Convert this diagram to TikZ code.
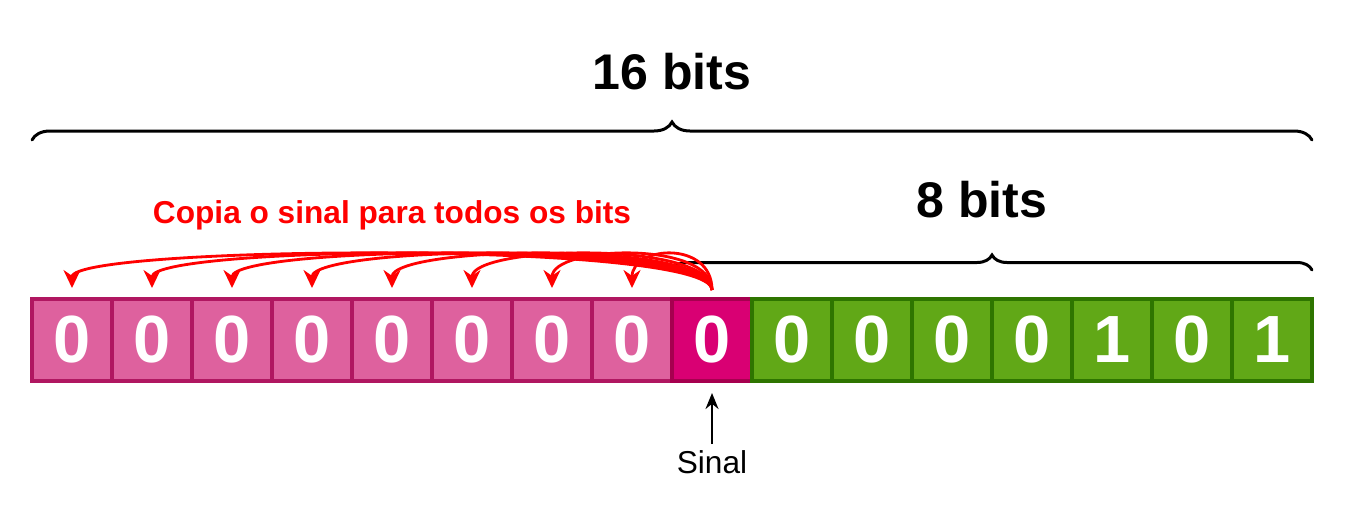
\documentclass[tikz,border=0pt]{standalone}
\usepackage{fontspec}
\setmainfont{Liberation Sans}
\usetikzlibrary{arrows.meta,decorations.pathreplacing}
\usetikzlibrary{positioning}

\begin{document}
\begin{tikzpicture}[
    bit/.style={draw,line width=2pt,minimum width=1.6cm,minimum height=1.64cm,outer sep=0pt,inner sep=0pt,text=white,font=\bfseries\fontsize{38}{40}\selectfont},
    extbit/.style={bit,fill=extfill,draw=extline},
    signbit/.style={bit,fill=signfill,draw=signline},
    lowbit/.style={bit,fill=lowfill,draw=lowline},
    bracebar/.style={decorate,line width=1.7pt,line cap=round},
    copyarrow/.style={-{Stealth[length=0.36cm,width=0.34cm]},red,line width=1.6pt}
  ]
		    \definecolor{extfill}{rgb}{0.87,0.38,0.62}
		    \definecolor{extline}{rgb}{0.69,0.09,0.38}
		    \definecolor{signfill}{rgb}{0.85,0.00,0.45}
		    \definecolor{signline}{rgb}{0.65,0.00,0.31}
		    \definecolor{lowfill}{rgb}{0.38,0.66,0.09}
		    \definecolor{lowline}{rgb}{0.18,0.46,0.00}
		    \useasboundingbox (0,0) rectangle (27.02,-10.44);

		    % upper byte: copies of the sign
		    \node[extbit] (b0) at (1.44,-6.8) {0};
		    \node[extbit, right = 0cm of b0] (b1) {0};
		    \node[extbit, right = 0cm of b1] (b2) {0};
		    \node[extbit, right = 0cm of b2] (b3) {0};
		    \node[extbit, right = 0cm of b3] (b4) {0};
		    \node[extbit, right = 0cm of b4] (b5) {0};
		    \node[extbit, right = 0cm of b5] (b6) {0};
		    \node[extbit, right = 0cm of b6] (b7) {0};
		    % lower byte
		    \node[signbit, right = 0cm of b7] (b8) {0};
		    \node[lowbit, right = 0cm of b8] (b9) {0};
		    \node[lowbit, right = 0cm of b9] (b10) {0};
		    \node[lowbit, right = 0cm of b10] (b11) {0};
		    \node[lowbit, right = 0cm of b11] (b12) {0};
		    \node[lowbit, right = 0cm of b12] (b13) {1};
		    \node[lowbit, right = 0cm of b13] (b14) {0};
		    \node[lowbit, right = 0cm of b14] (b15) {1};

		    % braces and their labels
		    \draw[bracebar,decoration={brace,amplitude=0.36cm}] ([yshift=3.18cm]b0.north west) -- ([yshift=3.18cm]b15.north east);
		    \draw[bracebar,decoration={brace,amplitude=0.3cm}] ([yshift=0.58cm]b8.north west) -- ([yshift=0.58cm]b15.north east);
		    \node (total) at ([yshift=4.54cm]b8.north west) {\bfseries\fontsize{28.5}{32}\selectfont 16 bits};
		    \node (byte) at ([xshift=-0.2cm,yshift=1.98cm]b12.north west) {\bfseries\fontsize{28.5}{32}\selectfont 8 bits};
		    \node[text=red] (copytext) at ([yshift=1.68cm]b4.north) {\bfseries\fontsize{18}{22}\selectfont Copia o sinal para todos os bits};

		    % sign copied to the upper byte
		    \draw[copyarrow] ([yshift=0.18cm]b8.north) .. controls +(0,1.0) and +(0,0.85) .. ([yshift=0.22cm]b0.north);
		    \draw[copyarrow] ([yshift=0.18cm]b8.north) .. controls +(0,1.0) and +(0,0.85) .. ([yshift=0.22cm]b1.north);
		    \draw[copyarrow] ([yshift=0.18cm]b8.north) .. controls +(0,1.0) and +(0,0.85) .. ([yshift=0.22cm]b2.north);
		    \draw[copyarrow] ([yshift=0.18cm]b8.north) .. controls +(0,1.0) and +(0,0.85) .. ([yshift=0.22cm]b3.north);
		    \draw[copyarrow] ([yshift=0.18cm]b8.north) .. controls +(0,1.0) and +(0,0.85) .. ([yshift=0.22cm]b4.north);
		    \draw[copyarrow] ([yshift=0.18cm]b8.north) .. controls +(0,1.0) and +(0,0.85) .. ([yshift=0.22cm]b5.north);
		    \draw[copyarrow] ([yshift=0.18cm]b8.north) .. controls +(0,1.0) and +(0,0.85) .. ([yshift=0.22cm]b6.north);
		    \draw[copyarrow] ([yshift=0.18cm]b8.north) .. controls +(0,1.0) and +(0,0.85) .. ([yshift=0.22cm]b7.north);

		    \node (sinal) at ([yshift=-1.62cm]b8.south) {\fontsize{18}{22}\selectfont Sinal};
		    \draw[-{Stealth[length=0.32cm,width=0.26cm]},line width=1.3pt] (sinal.north) -- ([yshift=-0.24cm]b8.south);
\end{tikzpicture}
\end{document}
